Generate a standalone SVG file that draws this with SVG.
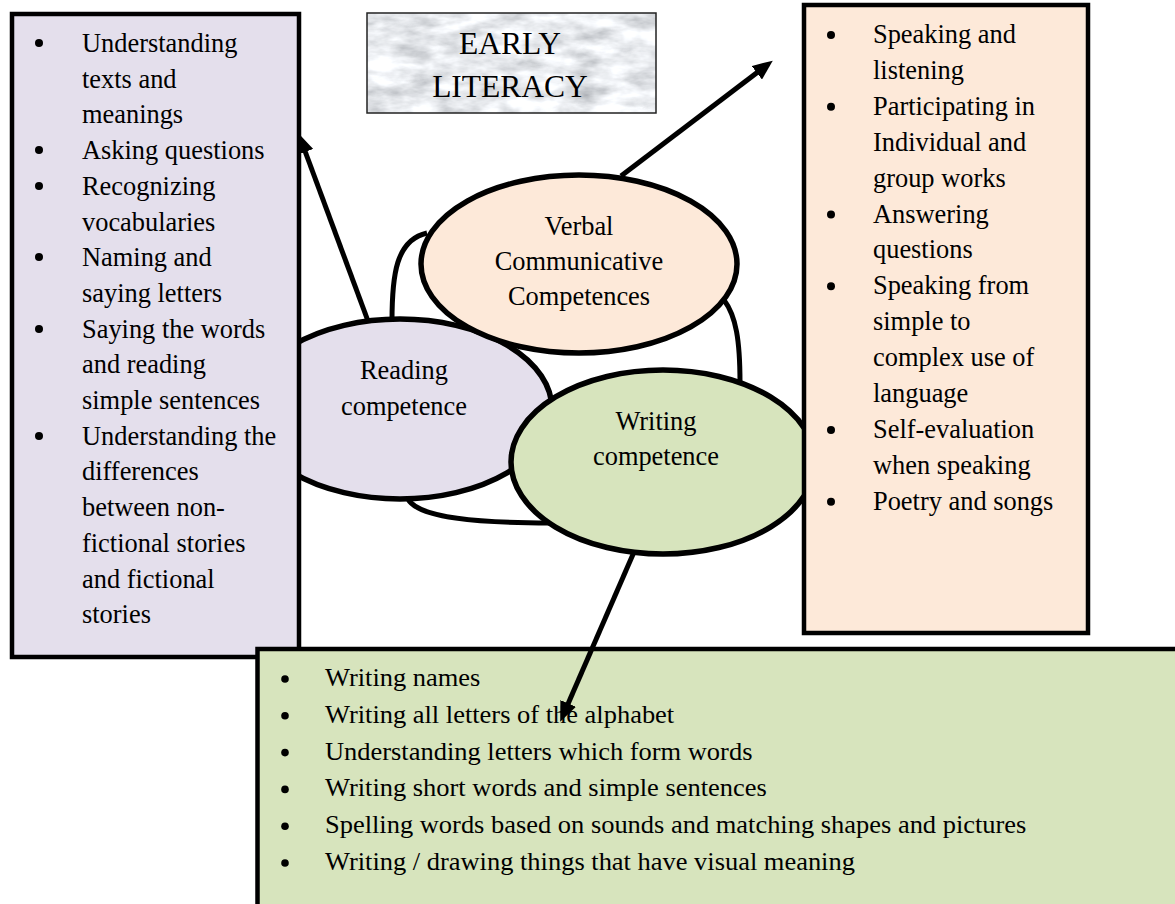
<svg xmlns="http://www.w3.org/2000/svg" width="1175" height="904" viewBox="0 0 1175 904">
<style>
  text { font-family: "Liberation Serif", "Times New Roman", serif; fill: #000; }
  .t { font-size: 26.4px; }
  .tb { font-size: 24.5px; }
  .title { font-size: 31.5px; text-anchor: middle; }
  .c { text-anchor: middle; }
  .box { stroke: #000; stroke-width: 4.5; }
  .ell { stroke: #000; stroke-width: 5.5; }
  .lav { fill: #e4dfec; }
  .peach { fill: #fde9d9; }
  .green { fill: #d7e4bd; }
  .conn { fill: none; stroke: #000; stroke-width: 5; }
  .bul { fill: #000; }
</style>
<defs>
  <marker id="arr" viewBox="0 0 20 17" refX="9" refY="8.5" markerWidth="20" markerHeight="17" markerUnits="userSpaceOnUse" orient="auto">
    <path d="M0,0 L20,8.5 L0,17 z" fill="#000"/>
  </marker>
  <filter id="marble" x="0" y="0" width="100%" height="100%">
    <feTurbulence type="fractalNoise" baseFrequency="0.03 0.07" numOctaves="4" seed="11" result="n"/>
    <feColorMatrix in="n" type="matrix" values="0.9 0 0 0 0.36  0.9 0 0 0 0.38  0.9 0 0 0 0.41  0 0 0 0 1" result="g"/>
    <feComposite in="g" in2="SourceGraphic" operator="in"/>
  </filter>
</defs>
<rect width="1175" height="904" fill="#fff"/>

<g id="reading-ellipse">
  <ellipse class="ell lav" cx="400" cy="409" rx="152" ry="90"/>
  <text class="t c" x="404" y="379">Reading</text>
  <text class="t c" x="404" y="415">competence</text>
</g>

<g id="verbal-ellipse">
  <ellipse class="ell peach" cx="579" cy="264" rx="158" ry="89"/>
  <text class="t c" x="579" y="235">Verbal</text>
  <text class="t c" x="579" y="270">Communicative</text>
  <text class="t c" x="579" y="305">Competences</text>
</g>

<g id="writing-ellipse">
  <ellipse class="ell green" cx="663" cy="462" rx="152" ry="92"/>
  <text class="t c" x="656" y="430">Writing</text>
  <text class="t c" x="656" y="465">competence</text>
</g>

<g id="title">
  <rect x="367" y="13" width="289" height="100" fill="#d8dbde" filter="url(#marble)"/>
  <rect x="367" y="13" width="289" height="100" fill="none" stroke="#222" stroke-width="1.5"/>
  <text class="title" x="510" y="54">EARLY</text>
  <text class="title" x="510" y="97">LITERACY</text>
</g>

<g id="reading-box">
  <rect class="box lav" x="12" y="14" width="287" height="643"/>
  <g class="bul">
    <circle cx="39" cy="43" r="4"/>
    <circle cx="39" cy="150" r="4"/>
    <circle cx="39" cy="186" r="4"/>
    <circle cx="39" cy="257" r="4"/>
    <circle cx="39" cy="329" r="4"/>
    <circle cx="39" cy="436" r="4"/>
  </g>
  <text class="t" x="82" y="52">Understanding<tspan x="82" dy="35.7">texts and</tspan><tspan x="82" dy="35.7">meanings</tspan></text>
  <text class="t" x="82" y="159.1">Asking questions</text>
  <text class="t" x="82" y="194.8">Recognizing<tspan x="82" dy="35.7">vocabularies</tspan></text>
  <text class="t" x="82" y="266.2">Naming and<tspan x="82" dy="35.7">saying letters</tspan></text>
  <text class="t" x="82" y="337.6">Saying the words<tspan x="82" dy="35.7">and reading</tspan><tspan x="82" dy="35.7">simple sentences</tspan></text>
  <text class="t" x="82" y="444.7">Understanding the<tspan x="82" dy="35.7">differences</tspan><tspan x="82" dy="35.7">between non-</tspan><tspan x="82" dy="35.7">fictional stories</tspan><tspan x="82" dy="35.7">and fictional</tspan><tspan x="82" dy="35.7">stories</tspan></text>
</g>

<g id="verbal-box">
  <rect class="box peach" x="804" y="5" width="284" height="628"/>
  <g class="bul">
    <circle cx="831" cy="35" r="4"/>
    <circle cx="831" cy="106.8" r="4"/>
    <circle cx="831" cy="214.5" r="4"/>
    <circle cx="831" cy="286.3" r="4"/>
    <circle cx="831" cy="430" r="4"/>
    <circle cx="831" cy="501.7" r="4"/>
  </g>
  <text class="t" x="873" y="43">Speaking and<tspan x="873" dy="35.9">listening</tspan></text>
  <text class="t" x="873" y="114.8">Participating in<tspan x="873" dy="35.9">Individual and</tspan><tspan x="873" dy="35.9">group works</tspan></text>
  <text class="t" x="873" y="222.5">Answering<tspan x="873" dy="35.9">questions</tspan></text>
  <text class="t" x="873" y="294.3">Speaking from<tspan x="873" dy="35.9">simple to</tspan><tspan x="873" dy="35.9">complex use of</tspan><tspan x="873" dy="35.9">language</tspan></text>
  <text class="t" x="873" y="438">Self-evaluation<tspan x="873" dy="35.9">when speaking</tspan></text>
  <text class="t" x="873" y="509.7">Poetry and songs</text>
</g>

<g id="writing-box">
  <rect class="box green" x="257.5" y="649" width="940" height="270" stroke-width="3.5"/>
  <g class="bul">
    <circle cx="285" cy="679" r="3.8"/>
    <circle cx="285" cy="715.8" r="3.8"/>
    <circle cx="285" cy="752.6" r="3.8"/>
    <circle cx="285" cy="789.4" r="3.8"/>
    <circle cx="285" cy="826.2" r="3.8"/>
    <circle cx="285" cy="863" r="3.8"/>
  </g>
  <g transform="translate(325 0) scale(1.08 1) translate(-325 0)">
    <text class="tb" x="325" y="686">Writing names</text>
    <text class="tb" x="325" y="722.8">Writing all letters of the alphabet</text>
    <text class="tb" x="325" y="759.6">Understanding letters which form words</text>
    <text class="tb" x="325" y="796.4">Writing short words and simple sentences</text>
    <text class="tb" x="325" y="833.2">Spelling words based on sounds and matching shapes and pictures</text>
    <text class="tb" x="325" y="870">Writing / drawing things that have visual meaning</text>
  </g>
</g>

<g id="connectors">
  <path class="conn" d="M392 321 C392 275, 396 240, 427 233"/>
  <path class="conn" d="M724 300 C736 316, 740 340, 740 383"/>
  <path class="conn" d="M408 499 C418 518, 478 523, 550 523"/>
  <path class="conn" d="M368 321 L302.2 143.5" marker-end="url(#arr)"/>
  <path class="conn" d="M621 176 L764 67.3" marker-end="url(#arr)"/>
  <path class="conn" d="M634 552 L564.6 711.7" marker-end="url(#arr)"/>
</g>
</svg>
